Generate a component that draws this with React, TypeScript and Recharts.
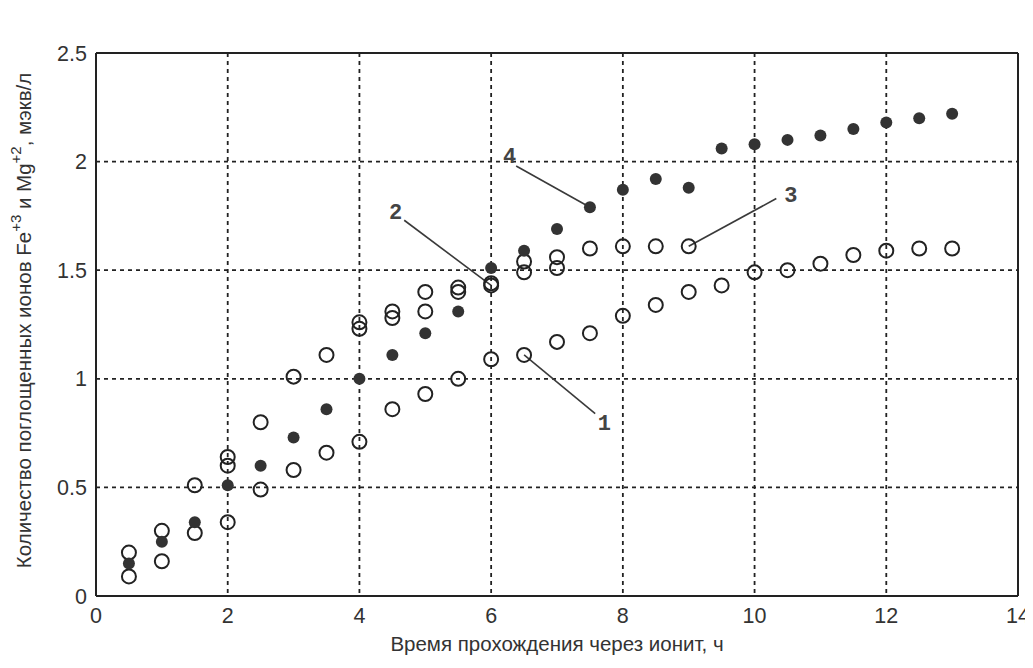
import React from 'react';
import {
  ScatterChart, Scatter, XAxis, YAxis, CartesianGrid, ReferenceLine, ReferenceDot,
} from 'recharts';

// series 1 — lower open circles
const series1X = [0.5, 1, 1.5, 2, 2.5, 3, 3.5, 4, 4.5, 5, 5.5, 6, 6.5, 7, 7.5, 8, 8.5, 9, 9.5, 10, 10.5, 11, 11.5, 12, 12.5, 13];
const series1Y = [0.09, 0.16, 0.29, 0.34, 0.49, 0.58, 0.66, 0.71, 0.86, 0.93, 1.0, 1.09, 1.11, 1.17, 1.21, 1.29, 1.34, 1.4, 1.43, 1.49, 1.5, 1.53, 1.57, 1.59, 1.6, 1.6];

// series 2 — open circles (second of the doubled upper points)
const series2X = [2, 4, 4.5, 5, 5.5, 6, 6.5, 7];
const series2Y = [0.6, 1.23, 1.28, 1.31, 1.4, 1.43, 1.49, 1.51];

// series 3 — upper open circles
const series3X = [0.5, 1, 1.5, 2, 2.5, 3, 3.5, 4, 4.5, 5, 5.5, 6, 6.5, 7, 7.5, 8, 8.5, 9];
const series3Y = [0.2, 0.3, 0.51, 0.64, 0.8, 1.01, 1.11, 1.26, 1.31, 1.4, 1.42, 1.44, 1.54, 1.56, 1.6, 1.61, 1.61, 1.61];

// series 4 — filled dots
const series4X = [0.5, 1, 1.5, 2, 2.5, 3, 3.5, 4, 4.5, 5, 5.5, 6, 6.5, 7, 7.5, 8, 8.5, 9, 9.5, 10, 10.5, 11, 11.5, 12, 12.5, 13];
const series4Y = [0.15, 0.25, 0.34, 0.51, 0.6, 0.73, 0.86, 1.0, 1.11, 1.21, 1.31, 1.51, 1.59, 1.69, 1.79, 1.87, 1.92, 1.88, 2.06, 2.08, 2.1, 2.12, 2.15, 2.18, 2.2, 2.22];

const xTicks = [0, 2, 4, 6, 8, 10, 12, 14];
const yTicks = [0, 0.5, 1, 1.5, 2, 2.5];

// curve labels: text, label position, leader line start and end (data units)
const labelNames = ['1', '2', '3', '4'];
const labelAt = [[7.72, 0.8], [4.55, 1.77], [10.55, 1.85], [6.28, 2.03]];
const leaderFrom = [[7.58, 0.84], [4.68, 1.73], [10.33, 1.83], [6.38, 1.98]];
const leaderTo = [[6.5, 1.11], [6.0, 1.43], [9.0, 1.61], [7.5, 1.79]];

const zip = (xs: number[], ys: number[]) => xs.map((x, i) => ({ x, y: ys[i] }));

const INK = '#222';
const FONT = '"Liberation Sans", Arial, sans-serif';

const OpenDot = (p: any) => (
  <circle cx={p.cx} cy={p.cy} r={7} fill="none" stroke={INK} strokeWidth={2} />
);
const FilledDot = (p: any) => (
  <circle cx={p.cx} cy={p.cy} r={6} fill="#333" />
);

const YTitle = (props: any) => {
  const { viewBox } = props;
  const cx = viewBox.x + 15;
  const cy = viewBox.y + viewBox.height / 2 - 4;
  return (
    <text
      x={cx}
      y={cy}
      transform={`rotate(-90 ${cx} ${cy})`}
      textAnchor="middle"
      dominantBaseline="central"
      fontFamily={FONT}
      fontSize={20.5}
      fill="#333"
    >
      Количество поглощенных ионов Fe
      <tspan dy={-8} fontSize={15}>+3</tspan>
      <tspan dy={8}> и Mg</tspan>
      <tspan dy={-8} fontSize={15}>+2</tspan>
      <tspan dy={8}>, мэкв/л</tspan>
    </text>
  );
};

const XTitle = (props: any) => {
  const { viewBox } = props;
  return (
    <text
      x={viewBox.x + viewBox.width / 2}
      y={viewBox.y + 55}
      textAnchor="middle"
      fontFamily={FONT}
      fontSize={20.5}
      fill="#333"
    >
      Время прохождения через ионит, ч
    </text>
  );
};

export default function App() {
  const tickStyle = { fontFamily: FONT, fontSize: 21.5, fill: '#333' };
  return (
    <div style={{ width: 1025, height: 652, background: '#fff' }}>
      <ScatterChart width={1025} height={652} margin={{ top: 45, right: 15, left: 0, bottom: 24 }}>
        <CartesianGrid stroke={INK} strokeWidth={1.8} strokeDasharray="4 4" />
        <XAxis
          type="number"
          dataKey="x"
          domain={[0, 14]}
          ticks={xTicks}
          interval={0}
          height={40}
          tickLine={false}
          axisLine={{ stroke: INK, strokeWidth: 2 }}
          tick={tickStyle}
          tickMargin={6}
          label={{ content: XTitle }}
        />
        <YAxis
          type="number"
          dataKey="y"
          domain={[0, 2.5]}
          ticks={yTicks}
          interval={0}
          width={88}
          tickLine={false}
          axisLine={{ stroke: INK, strokeWidth: 2 }}
          tick={tickStyle}
          tickMargin={3}
          label={{ content: YTitle }}
        />
        <ReferenceLine y={2.5} stroke={INK} strokeWidth={2} />
        <ReferenceLine x={14} stroke={INK} strokeWidth={2} />
        {labelNames.map((n, i) => (
          <ReferenceLine
            key={`ln${n}`}
            segment={[
              { x: leaderFrom[i][0], y: leaderFrom[i][1] },
              { x: leaderTo[i][0], y: leaderTo[i][1] },
            ]}
            stroke="#3a3a3a"
            strokeWidth={1.6}
          />
        ))}
        <Scatter data={zip(series1X, series1Y)} shape={OpenDot} isAnimationActive={false} />
        <Scatter data={zip(series2X, series2Y)} shape={OpenDot} isAnimationActive={false} />
        <Scatter data={zip(series3X, series3Y)} shape={OpenDot} isAnimationActive={false} />
        <Scatter data={zip(series4X, series4Y)} shape={FilledDot} isAnimationActive={false} />
        {labelNames.map((n, i) => (
          <ReferenceDot
            key={`lb${n}`}
            x={labelAt[i][0]}
            y={labelAt[i][1]}
            r={0}
            fill="none"
            stroke="none"
            label={{
              value: n,
              position: 'center',
              fontFamily: '"Liberation Mono", "Courier New", monospace',
              fontWeight: 'bold',
              fontSize: 22,
              fill: '#444',
            }}
          />
        ))}
      </ScatterChart>
    </div>
  );
}
